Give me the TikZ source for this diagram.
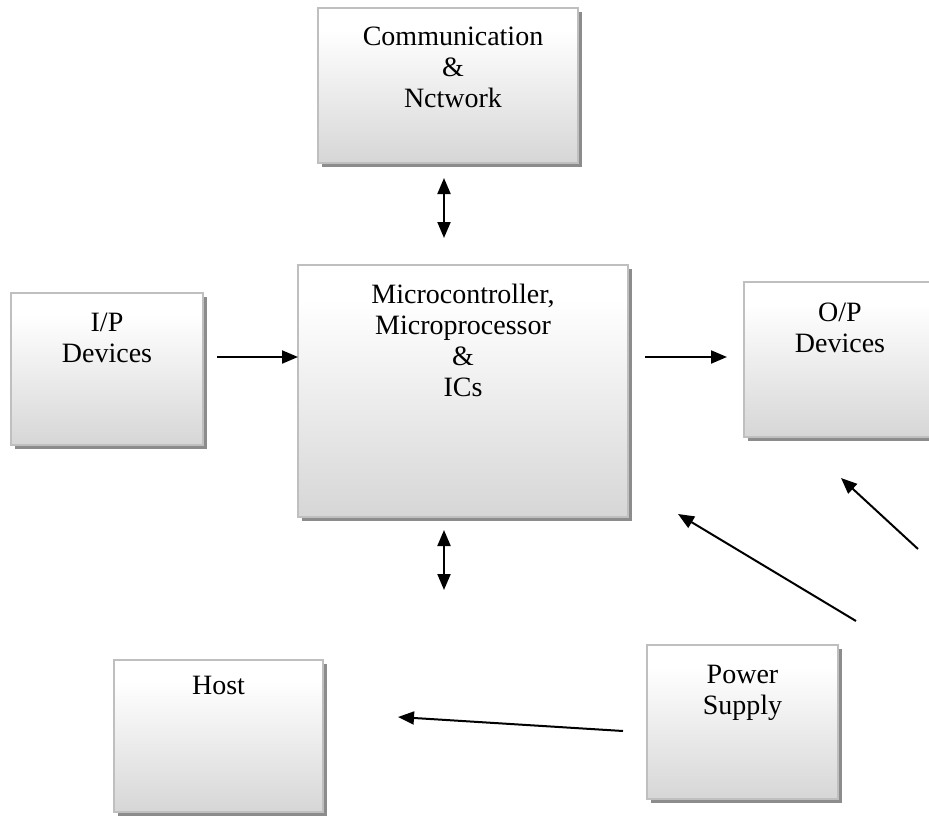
\documentclass[tikz,border=0pt]{standalone}
\usepackage{fontspec}
\setmainfont{Liberation Serif}
\usetikzlibrary{arrows.meta, positioning, shadows}
\definecolor{bGray}{HTML}{BFBFBF}
\definecolor{sGray}{HTML}{8C8C8C}
\pgfdeclareverticalshading{boxfade}{100bp}{color(0bp)=(black!20); color(25bp)=(black!16); color(68bp)=(white); color(100bp)=(white)}

\begin{document}
\begin{tikzpicture}[x=1pt, y=-1pt,
      blk/.style={draw=bGray, line width=1.2pt, shading=boxfade,
                  drop shadow={shadow xshift=3.5pt, shadow yshift=-4pt, fill=sGray, opacity=1},
                  inner sep=0pt},
      txt/.style={align=center, inner sep=0pt, font=\fontsize{28}{31}\selectfont},
      one/.style={line width=2pt, -{Triangle[length=16pt, width=13pt]}},
      two/.style={line width=2pt, {Triangle[length=16pt, width=13pt]}-{Triangle[length=16pt, width=13pt]}}]
    \clip (0,0) rectangle (929,819);
    % blocks
    \node[blk, minimum width=260pt, minimum height=155pt] (comm)  at (448,85.5) {};
    \node[blk, minimum width=192pt, minimum height=152pt] (inp)   at (107,369) {};
    \node[blk, minimum width=330pt, minimum height=252pt] (micro) at (463,391) {};
    \node[blk, minimum width=192pt, minimum height=155pt] (outp)  at (840,359.5) {};
    \node[blk, minimum width=209pt, minimum height=152pt] (host)  at (218.5,736) {};
    \node[blk, minimum width=191pt, minimum height=154pt] (power) at (742.5,722) {};
    % texts
    \node[txt, below=19pt of comm.north, xshift=5pt] (comm-t)  {Communication\\\&\\Nctwork};
    \node[txt, below=20pt of inp.north]              (inp-t)   {I/P\\Devices};
    \node[txt, below=19pt of micro.north]            (micro-t) {Microcontroller,\\Microprocessor\\\&\\ICs};
    \node[txt, below=21pt of outp.north]             (outp-t)  {O/P\\Devices};
    \node[txt, below=17pt of host.north]             (host-t)  {Host};
    \node[txt, below=21pt of power.north]            (power-t) {Power\\Supply};
    % arrow ends
    \coordinate (cm1) at (444,178);  \coordinate (cm2) at (444,238);
    \coordinate (im1) at (217,357);  \coordinate (im2) at (298,357);
    \coordinate (mo1) at (645,357);  \coordinate (mo2) at (727,357);
    \coordinate (mh1) at (444,530);  \coordinate (mh2) at (444,590);
    \coordinate (ph1) at (623,731);  \coordinate (ph2) at (398,717);
    \coordinate (pm1) at (856,621);  \coordinate (pm2) at (678,514);
    \coordinate (po1) at (918,549);  \coordinate (po2) at (841,478);
    \draw[two] (cm1) -- (cm2);
    \draw[two] (mh1) -- (mh2);
    \foreach \a/\b in {im1/im2, mo1/mo2, ph1/ph2, pm1/pm2, po1/po2}
      \draw[one] (\a) -- (\b);
  \end{tikzpicture}
\end{document}
